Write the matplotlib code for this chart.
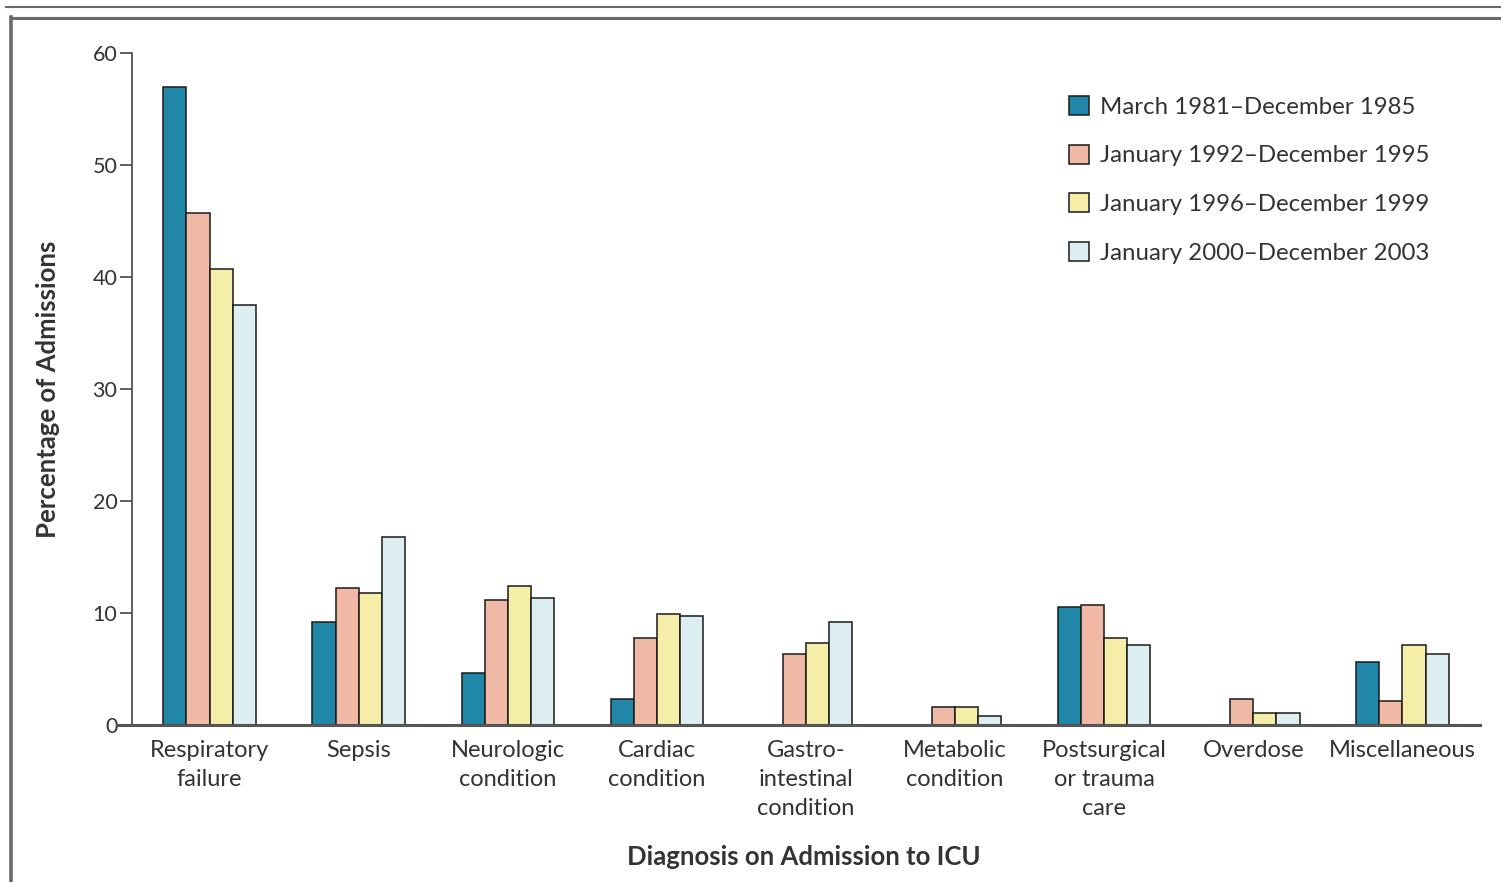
import numpy as np
import matplotlib
matplotlib.use("Agg")
import matplotlib.pyplot as plt
from matplotlib.lines import Line2D
from matplotlib.patches import Patch

plt.rcParams['font.family'] = ['Lato', 'DejaVu Sans']

categories = ["Respiratory\nfailure", "Sepsis", "Neurologic\ncondition", "Cardiac\ncondition",
              "Gastro-\nintestinal\ncondition", "Metabolic\ncondition", "Postsurgical\nor trauma\ncare",
              "Overdose", "Miscellaneous"]
series_labels = ["March 1981–December 1985", "January 1992–December 1995",
                 "January 1996–December 1999", "January 2000–December 2003"]
p1981_1985 = [57.0, 9.2, 4.6, 2.3, np.nan, np.nan, 10.5, np.nan, 5.6]
p1992_1995 = [45.7, 12.2, 11.2, 7.8, 6.3, 1.6, 10.7, 2.3, 2.1]
p1996_1999 = [40.7, 11.8, 12.4, 9.9, 7.3, 1.6, 7.8, 1.1, 7.1]
p2000_2003 = [37.5, 16.8, 11.3, 9.7, 9.2, 0.8, 7.1, 1.1, 6.3]
yticks = [0, 10, 20, 30, 40, 50, 60]

series = [p1981_1985, p1992_1995, p1996_1999, p2000_2003]
colors = ["#2187A8", "#F0B9A6", "#F4EEA9", "#DCEEF1"]
text_color = "#333333"
edge = "#1a1a1a"

W, H = 1501, 882
fig = plt.figure(figsize=(W / 100, H / 100), dpi=100)
fig.patch.set_facecolor("white")

def fx(px):
    return px / W
def fy(py):
    return 1 - py / H

ax = fig.add_axes([fx(132), fy(725), fx(1480) - fx(132), fy(53) - fy(725)])

x = np.arange(len(categories))
bw = 0.155
for i, (vals, c) in enumerate(zip(series, colors)):
    ax.bar(x + (i - 1.5) * bw, vals, width=bw, color=c, edgecolor=edge,
           linewidth=1.1, label=series_labels[i], zorder=2)

ax.set_xlim(-0.52, 8.52)
ax.set_ylim(0, 60)
ax.set_yticks(yticks)
ax.set_xticks(x)
ax.set_xticklabels(categories, fontsize=17, color=text_color, linespacing=1.47)
ax.tick_params(axis='x', length=0, pad=11)
ax.tick_params(axis='y', length=9, width=1.2, color="#444444", pad=1.5,
               labelsize=15.5, labelcolor=text_color)

for s in ["top", "right"]:
    ax.spines[s].set_visible(False)
ax.spines["left"].set_color("#444444")
ax.spines["left"].set_linewidth(1.2)
ax.spines["bottom"].set_color("#555555")
ax.spines["bottom"].set_linewidth(2.2)
ax.spines["bottom"].set_bounds(-0.62, 8.52)
ax.spines["bottom"].set_clip_on(False)

ax.set_ylabel("Percentage of Admissions", fontsize=18.5, fontweight="bold",
              color=text_color, va="center")
ax.yaxis.set_label_coords(-0.0623, 0.5)
ax.set_xlabel("Diagnosis on Admission to ICU", fontsize=18.5, fontweight="bold",
              color=text_color, va="center")
ax.xaxis.set_label_coords(0.4985, -0.196)

handles = [Patch(facecolor=c, edgecolor=edge, linewidth=1.1) for c in colors]
leg = ax.legend(handles, series_labels, loc="upper left",
                bbox_to_anchor=(fx(1069), fy(96)), bbox_transform=fig.transFigure,
                frameon=False, fontsize=17.3, handlelength=0.85, handleheight=0.85,
                handletextpad=0.45, labelspacing=1.11, borderaxespad=0, borderpad=0)
for t in leg.get_texts():
    t.set_color(text_color)

# outer frame lines
fig.add_artist(Line2D([fx(6), fx(1501)], [fy(7), fy(7)], transform=fig.transFigure,
                      color="#6a6a6a", linewidth=1.5))
fig.add_artist(Line2D([fx(11), fx(1501)], [fy(18), fy(18)], transform=fig.transFigure,
                      color="#6a6a6a", linewidth=2.2))
fig.add_artist(Line2D([fx(11), fx(11)], [fy(17), fy(882)], transform=fig.transFigure,
                      color="#6a6a6a", linewidth=2.6))

fig.savefig("out.png", dpi=100, facecolor="white")
